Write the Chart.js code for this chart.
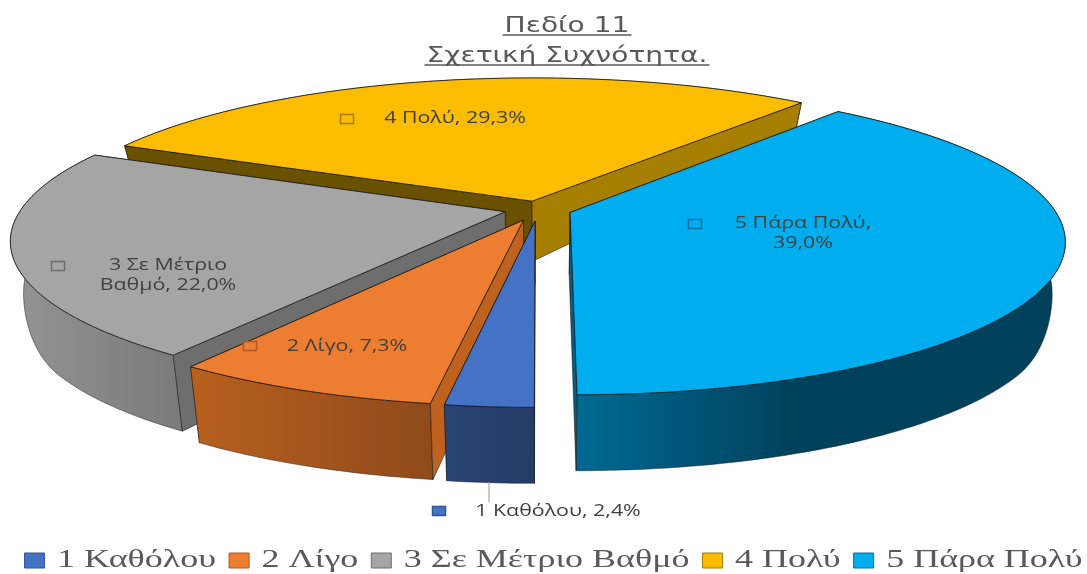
<!DOCTYPE html>
<html><head><meta charset="utf-8">
<style>html,body{margin:0;padding:0;background:#fff}canvas{display:block}</style>
<script src="https://cdn.jsdelivr.net/npm/chart.js@4"></script>
</head><body><canvas id="c" width="1087" height="574"></canvas>
<script>
const categories = ['1 Καθόλου','2 Λίγο','3 Σε Μέτριο Βαθμό','4 Πολύ','5 Πάρα Πολύ'];
const values = [2.4,7.3,22.0,29.3,39.0];
const titleLines = ['Πεδίο 11','Σχετική Συχνότητα.'];
const topColors = ['#4472C4','#ED7D31','#A5A5A5','#FCBD00','#00AEEF'];
const edgeColors = ['#2F5597','#AE5A21','#6E6E6E','#A07C00','#0070A0'];
const sideLeft = ['#2A4474','#B8601F','#949494','#7A5E00','#006A92'];
const sideRight = ['#263C66','#8F4A1B','#7A7A7A','#6A5000','#00415C'];
const wallStart = ['#2A4474','#C0621F','#6E6E6E','#6A5100','#005F85'];
const wallEnd = ['#2A4474','#C0621F','#6E6E6E','#A67E00','#005F85'];
const explode = [0.08,0.08,0.07,0.055,0.07];
const drawOrder = [3,4,2,1,0];
const labelLines = [['1 Καθόλου, 2,4%'],['2 Λίγο, 7,3%'],['3 Σε Μέτριο','Βαθμό, 22,0%'],['4 Πολύ, 29,3%'],['5 Πάρα Πολύ,','39,0%']];
const labelAnchors = [[558,512,439,511],[347,347,250,346],[168,266,58,266],[455,119,347,119],[803,224,695,224]];
const leaderLine = [[489,482],[489,502]];

const CX=538, CY=209, A=484, B=148, K=0.18;
function project(u,v,bottom){
  const w=1-K*v;
  let x=CX+A*u/w, y=CY+B*v/w;
  if(bottom){
    const base=62-12*u*u;
    let d;
    if(v>=0){
      const t=Math.max(0,Math.min(1,(v-0.12)/0.43));
      d=base+(76-base)*t*t*(3-2*t);
    } else d=base+30*v;
    x=CX+(x-CX)*0.975; y+=d;
  }
  return [x,y];
}
function pathOf(ctx,pts){ctx.beginPath();pts.forEach((p,i)=>i?ctx.lineTo(p[0],p[1]):ctx.moveTo(p[0],p[1]));ctx.closePath();}
// Horizontally stretched text for a Chart.js box (the reference is a widened image).
function wrapStretch(box,s,dx,dy){
  const withPatch=(c,fn)=>{
    const ft=c.fillText,mt=c.measureText;
    c.fillText=function(t,x,y){c.save();c.translate(x,y);c.scale(s,1);ft.call(c,t,0,0);c.restore();};
    c.measureText=function(t){const m=mt.call(c,t);return {width:m.width*s,actualBoundingBoxAscent:m.actualBoundingBoxAscent,actualBoundingBoxDescent:m.actualBoundingBoxDescent};};
    const r=fn();
    delete c.fillText;delete c.measureText;
    return r;
  };
  const fit=box.fit,draw=box.draw;
  box.fit=function(){return withPatch(this.ctx,()=>fit.apply(this,arguments));};
  box.draw=function(){
    const c=this.ctx;c.save();c.translate(dx,dy);
    const r=withPatch(c,()=>draw.apply(this,arguments));
    c.restore();return r;
  };
  box._wrapped=true;
}
const TITLE_S=1.37, TITLE_DX=23.5;
const pie3d={
  id:'pie3d',
  beforeLayout(chart){
    if(chart.legend&&!chart.legend._wrapped)wrapStretch(chart.legend,1.44,10,9);
    if(chart.titleBlock&&!chart.titleBlock._wrapped)wrapStretch(chart.titleBlock,TITLE_S,TITLE_DX,2);
  },
  beforeDatasetDraw(chart){
    const ctx=chart.ctx, arcs=chart.getDatasetMeta(0).data;
    drawOrder.forEach(i=>{
      const p=arcs[i].getProps(['startAngle','endAngle'],true);
      const a0=p.startAngle,a1=p.endAngle,mid=(a0+a1)/2,e=explode[i];
      const ox=Math.cos(mid)*e, oy=Math.sin(mid)*e;
      const n=Math.max(4,Math.ceil((a1-a0)/0.02));
      const rim=[];
      for(let k=0;k<=n;k++){const t=a0+(a1-a0)*k/n;rim.push([ox+Math.cos(t),oy+Math.sin(t)]);}
      const tipT=project(ox,oy,false),tipB=project(ox,oy,true);
      const rimT=rim.map(q=>project(q[0],q[1],false)),rimB=rim.map(q=>project(q[0],q[1],true));
      ctx.save();
      ctx.lineJoin='round';
      const wall=(idx,col)=>{
        pathOf(ctx,[tipT,rimT[idx],rimB[idx],tipB]);
        ctx.fillStyle=col;ctx.fill();
        ctx.strokeStyle='rgba(25,25,25,.75)';ctx.lineWidth=.8;ctx.stroke();
      };
      // a radial wall faces the viewer when its outward normal points towards the camera
      const faces=(ang)=>(Math.cos(ang)*(-ox)+Math.sin(ang)*(6-oy))>0;
      const front=[],back=[];
      (faces(a0-Math.PI/2)?front:back).push([0,wallStart[i]]);
      (faces(a1+Math.PI/2)?front:back).push([n,wallEnd[i]]);
      back.forEach(w=>wall(w[0],w[1]));
      // outer wall
      const xs=rimT.concat(rimB).map(q=>q[0]);
      const g=ctx.createLinearGradient(Math.min(...xs),0,Math.max(...xs),0);
      g.addColorStop(0,sideLeft[i]);
      g.addColorStop(i===4?0.45:1,sideRight[i]);
      pathOf(ctx,rimT.concat(rimB.slice().reverse()));
      ctx.fillStyle=g;ctx.fill();
      ctx.strokeStyle='rgba(25,25,25,.6)';ctx.lineWidth=.8;ctx.stroke();
      front.forEach(w=>wall(w[0],w[1]));
      // top face
      pathOf(ctx,[tipT].concat(rimT));
      ctx.fillStyle=topColors[i];ctx.fill();
      ctx.strokeStyle='rgba(20,20,20,.8)';ctx.lineWidth=1;ctx.stroke();
      ctx.restore();
    });
    return false;
  },
  afterDatasetsDraw(chart){
    const ctx=chart.ctx;
    ctx.save();
    ctx.strokeStyle='#A6A6A6';ctx.lineWidth=1.2;
    ctx.beginPath();ctx.moveTo(leaderLine[0][0],leaderLine[0][1]);ctx.lineTo(leaderLine[1][0],leaderLine[1][1]);ctx.stroke();
    ctx.textAlign='center';ctx.textBaseline='middle';
    labelLines.forEach((lines,i)=>{
      const [tx,ty,mx,my]=labelAnchors[i];
      ctx.fillStyle=topColors[i];ctx.strokeStyle=edgeColors[i];ctx.lineWidth=1.5;
      ctx.fillRect(mx-6.5,my-4.5,13,9);ctx.strokeRect(mx-6.5,my-4.5,13,9);
      ctx.fillStyle='#404040';ctx.font='15.5px "Open Sans"';
      lines.forEach((t,l)=>{
        ctx.save();ctx.translate(tx,ty+l*20);ctx.scale(1.38,1);ctx.fillText(t,0,0);ctx.restore();
      });
    });
    // title underlines
    const tb=chart.titleBlock;
    ctx.strokeStyle='#595959';ctx.lineWidth=1.5;
    ctx.font=tb.options.font.size+'px "DejaVu Sans"';
    titleLines.forEach((t,l)=>{
      const w=ctx.measureText(t).width*TITLE_S,cx=(tb.left+tb.right)/2+TITLE_DX,y=35+l*30;
      ctx.beginPath();ctx.moveTo(cx-w/2-2,y);ctx.lineTo(cx+w/2+2,y);ctx.stroke();
    });
    ctx.restore();
  }
};
new Chart(document.getElementById('c'),{
  type:'pie',
  plugins:[pie3d],
  data:{labels:categories,datasets:[{data:values,backgroundColor:topColors,borderColor:edgeColors,borderWidth:1}]},
  options:{
    responsive:false,animation:false,rotation:180,
    layout:{padding:0},
    plugins:{
      tooltip:{enabled:false},
      title:{display:true,text:titleLines,color:'#595959',
        font:{family:'"DejaVu Sans"',size:20.5,weight:'normal',lineHeight:1.46},padding:{top:10,bottom:10}},
      legend:{position:'bottom',
        labels:{boxWidth:20,boxHeight:15,padding:13,color:'#595959',
          font:{family:'"Liberation Serif"',size:25}}}
    }
  }
});
</script></body></html>
